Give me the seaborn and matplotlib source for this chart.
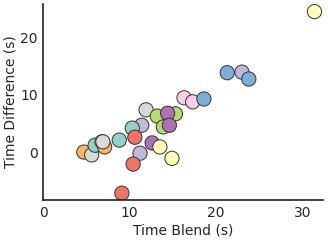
import matplotlib
matplotlib.use("Agg")
import matplotlib.pyplot as plt
import seaborn as sns
import pandas as pd

# one entry per trial: blend time, difference, group
time_blend = [31.4, 21.3, 23.0, 23.8, 16.3, 17.3, 18.6, 11.9, 13.2, 15.3,
              14.4, 13.9, 14.6, 11.4, 10.3, 10.6, 8.8, 12.6, 13.5, 11.2,
              14.9, 10.4, 9.1, 4.7, 5.6, 6.0, 6.8, 7.1, 6.9]
time_diff = [24.6, 13.9, 14.0, 12.8, 9.5, 8.8, 9.3, 7.4, 6.3, 6.7,
             6.8, 4.4, 4.7, 4.7, 4.2, 2.6, 2.1, 1.6, 0.9, -0.2,
             -1.1, -2.1, -7.2, 0.0, -0.5, 1.2, 1.8, 0.9, 1.8]
group = ["yellow", "blue", "lavender", "blue", "pink", "pink", "blue", "grey", "green", "green",
         "purple", "green", "purple", "lavender", "teal", "red", "teal", "purple", "yellow", "lavender",
         "yellow", "red", "red", "orange", "grey", "teal", "orange", "orange", "grey"]

colors = {"teal": "#8dd3c7", "yellow": "#ffffb3", "lavender": "#bebada",
          "red": "#f47262", "blue": "#7bb0d6", "orange": "#fdb462",
          "green": "#b3de69", "pink": "#fccde5", "grey": "#d9d9d9",
          "purple": "#ad71b6"}

df = pd.DataFrame({"blend": time_blend, "diff": time_diff, "group": group})

sns.set_style("white")
fig, ax = plt.subplots(figsize=(3.28, 2.41), dpi=100)
sns.scatterplot(data=df, x="blend", y="diff", hue="group", palette=colors,
                s=105, edgecolor="#333333", linewidth=0.7, legend=False, ax=ax)
ax.set_xlim(0, 32.4)
ax.set_ylim(-8.4, 26)
ax.set_xticks([0, 10, 20, 30])
ax.set_yticks([0, 10, 20])
ax.set_xlabel("Time Blend (s)", fontsize=10, labelpad=3)
ax.set_ylabel("Time Difference (s)", fontsize=10, labelpad=2)
ax.tick_params(labelsize=10, length=0, pad=4)
sns.despine(ax=ax)
for sp in ["left", "bottom"]:
    ax.spines[sp].set_color("#222222")
    ax.spines[sp].set_linewidth(1.2)
fig.subplots_adjust(left=0.132, right=0.985, top=0.985, bottom=0.17)
fig.savefig("out.png", dpi=100)
